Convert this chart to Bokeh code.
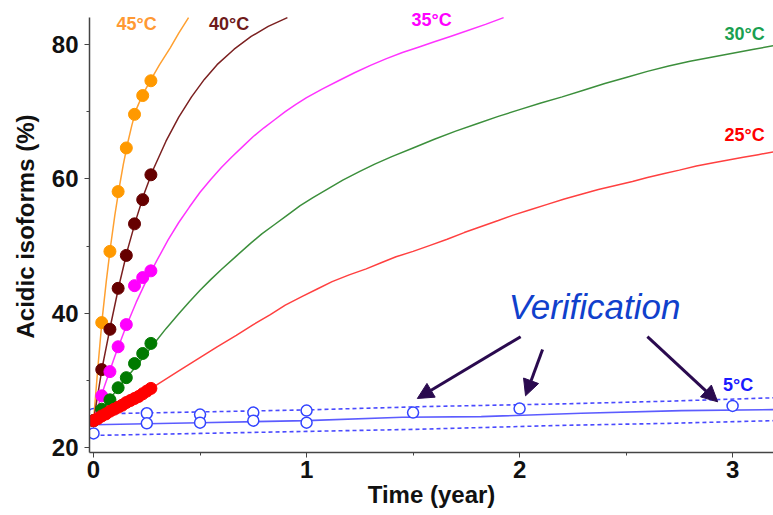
from bokeh.plotting import figure
from bokeh.models import Range1d, FixedTicker, Arrow, NormalHead, ColumnDataSource, Label
from bokeh.embed import file_html
from bokeh.resources import INLINE

# ---- data (years, % acidic isoforms) ----
weeks2 = [0, 2, 4, 6, 8, 10, 12, 14]
t_pts = [w / 52 for w in weeks2]
weeks1 = list(range(15))
t_red_pts = [w / 52 for w in weeks1]

pts45 = [24.0, 38.6, 49.2, 58.1, 64.6, 69.6, 72.4, 74.6]
pts40 = [24.0, 31.6, 37.6, 43.7, 48.6, 53.3, 56.9, 60.6]
pts35 = [24.0, 27.7, 31.3, 35.0, 38.3, 44.1, 45.3, 46.3]
pts30 = [24.0, 25.7, 27.1, 28.9, 30.4, 32.5, 34.0, 35.5]
pts25 = [24.0, 24.3, 24.7, 25.0, 25.4, 25.7, 26.0, 26.3, 26.7, 27.0, 27.3, 27.6, 28.0, 28.4, 28.8]

fit45_t = [0, 0.02, 0.04, 0.06, 0.08, 0.10, 0.12, 0.14, 0.16, 0.18, 0.20, 0.23, 0.27, 0.31, 0.36, 0.40, 0.446]
fit45_v = [24.0, 31.8, 39.0, 44.8, 50.0, 54.6, 58.6, 62.2, 65.3, 68.0, 70.3, 72.5, 74.8, 77.0, 79.5, 81.7, 84.0]

fit40_t = [0, 0.04, 0.08, 0.12, 0.16, 0.20, 0.24, 0.28, 0.34, 0.40, 0.46, 0.52, 0.58, 0.66, 0.74, 0.82, 0.91]
fit40_v = [24.0, 31.8, 38.2, 44.2, 49.5, 54.0, 58.0, 61.4, 65.6, 69.2, 72.2, 74.8, 77.0, 79.3, 81.2, 82.7, 84.0]

fit35_t = [0, 0.05, 0.10, 0.15, 0.20, 0.25, 0.30, 0.35, 0.40, 0.45, 0.50, 0.55, 0.60, 0.65, 0.70, 0.75, 0.80, 0.85, 0.90, 0.95, 1.00, 1.075, 1.15, 1.225, 1.30, 1.375, 1.45, 1.525, 1.60, 1.675, 1.75, 1.84, 1.925]
fit35_v = [24.0, 29.0, 33.6, 37.8, 41.6, 45.0, 48.0, 50.9, 53.5, 55.8, 58.0, 59.9, 61.7, 63.3, 64.8, 66.3, 67.6, 68.8, 70.0, 71.1, 72.1, 73.4, 74.6, 75.8, 76.9, 77.9, 78.8, 79.6, 80.4, 81.2, 82.0, 83.0, 84.0]

fit30_t = [0, 0.05, 0.10, 0.15, 0.20, 0.28, 0.34, 0.40, 0.45, 0.50, 0.55, 0.60, 0.67, 0.737, 0.79, 0.85, 0.91, 0.97, 1.03, 1.10, 1.17, 1.25, 1.32, 1.40, 1.50, 1.60, 1.70, 1.80, 1.90, 2.00, 2.10, 2.20, 2.30, 2.40, 2.50, 2.60, 2.70, 2.80, 2.90, 3.00, 3.10, 3.19]
fit30_v = [24.0, 26.1, 28.2, 30.2, 32.1, 35.3, 37.7, 39.9, 41.7, 43.4, 45.0, 46.5, 48.5, 50.4, 51.8, 53.2, 54.6, 56.0, 57.2, 58.5, 59.8, 61.1, 62.2, 63.3, 64.6, 65.9, 67.1, 68.2, 69.3, 70.3, 71.3, 72.2, 73.2, 74.2, 75.1, 76.0, 76.8, 77.5, 78.1, 78.7, 79.3, 79.8]

fit25_t = [0, 0.10, 0.20, 0.28, 0.40, 0.49, 0.58, 0.67, 0.75, 0.83, 0.90, 0.98, 1.05, 1.12, 1.20, 1.28, 1.35, 1.42, 1.50, 1.58, 1.66, 1.74, 1.82, 1.90, 1.97, 2.05, 2.13, 2.21, 2.29, 2.37, 2.45, 2.53, 2.60, 2.68, 2.75, 2.83, 2.91, 2.98, 3.05, 3.12, 3.19]
fit25_v = [24.0, 25.9, 27.6, 29.0, 31.4, 33.2, 35.0, 36.7, 38.3, 39.8, 41.2, 42.5, 43.6, 44.7, 45.7, 46.6, 47.5, 48.4, 49.2, 50.1, 51.0, 52.0, 52.9, 53.8, 54.6, 55.4, 56.2, 57.0, 57.7, 58.4, 59.0, 59.6, 60.2, 60.8, 61.3, 61.9, 62.4, 62.8, 63.2, 63.6, 64.0]

# 5 °C real-time data, prediction and interval
t5 = [0, 0, 0.25, 0.25, 0.5, 0.5, 0.75, 0.75, 1.0, 1.0]
v5 = [22.1, 25.0, 25.1, 23.6, 24.9, 23.7, 25.2, 24.0, 25.5, 23.7]
t_ver = [1.5, 2.0, 3.0]
v_ver = [25.2, 25.8, 26.2]
pred5_t = [0, 0.5, 1.0, 1.45, 1.82, 2.29, 2.76, 3.19]
pred5_v = [23.4, 23.7, 24.0, 24.5, 24.6, 25.1, 25.5, 25.65]
up5_t = [0, 0.5, 1.0, 1.56, 2.2, 2.7, 3.19]
up5_v = [25.0, 25.3, 25.6, 26.1, 26.5, 26.9, 27.4]
lo5_t = [0, 0.5, 1.0, 1.5, 2.2, 2.7, 3.19]
lo5_v = [21.8, 22.1, 22.4, 22.7, 23.3, 23.6, 24.0]

# labels
temp_labels = ["45°C", "40°C", "35°C", "30°C", "25°C", "5°C"]
label_t = [0.202, 0.636, 1.587, 3.056, 3.056, 3.026]
label_v = [83.1, 83.0, 83.6, 81.5, 66.5, 29.3]
label_colors = ["#ff9933", "#6e1a1a", "#ff00ff", "#1aa050", "#ff0000", "#1a1aff"]

arrow_t0 = [2.005, 2.108, 2.60]
arrow_v0 = [36.5, 34.6, 36.5]
arrow_t1 = [1.52, 2.028, 2.93]
arrow_v1 = [27.3, 27.7, 26.8]

x_ticks = [0, 1, 2, 3]
y_ticks = [20, 40, 60, 80]
y_axis_top = 84.0

# ---- figure ----
FONT = "Liberation Sans"
p = figure(width=773, height=515, output_backend="svg", toolbar_location=None,
           x_range=Range1d(-0.019, 3.192), y_range=Range1d(19.26, 86.55),
           min_border_left=89, min_border_right=0, min_border_top=0, min_border_bottom=63)
p.outline_line_color = None
p.grid.visible = False
p.background_fill_color = "white"

p.xaxis.ticker = FixedTicker(ticks=x_ticks, minor_ticks=[0.5, 1.5, 2.5])
p.yaxis.ticker = FixedTicker(ticks=y_ticks, minor_ticks=[30, 50, 70])
p.yaxis.bounds = (19.26, y_axis_top)
p.xaxis.axis_label = "Time (year)"
p.yaxis.axis_label = "Acidic isoforms (%)"
for ax in (p.xaxis, p.yaxis):
    ax.axis_line_color = "#444444"
    ax.axis_line_width = 1.5
    ax.major_tick_line_color = "#444444"
    ax.minor_tick_line_color = "#444444"
    ax.major_tick_out = 5
    ax.major_tick_in = 0
    ax.minor_tick_out = 3
    ax.minor_tick_in = 0
    ax.major_label_text_font = FONT
    ax.major_label_text_font_style = "bold"
    ax.major_label_text_font_size = "24px"
    ax.major_label_text_color = "#111111"
    ax.axis_label_text_font = FONT
    ax.axis_label_text_font_style = "bold"
    ax.axis_label_text_font_size = "24px"
    ax.axis_label_text_color = "#111111"
p.xaxis.major_label_standoff = 3
p.xaxis.axis_label_standoff = 0
p.yaxis.major_label_standoff = 6
p.yaxis.axis_label_standoff = 10

# 5 °C
blue = "#4a4aff"
p.line(up5_t, up5_v, line_color=blue, line_width=1.6, line_dash="4 3")
p.line(lo5_t, lo5_v, line_color=blue, line_width=1.6, line_dash="4 3")
p.line(pred5_t, pred5_v, line_color="#5c5cff", line_width=1.6)
p.scatter(t5, v5, size=11, marker="circle", fill_color="white", line_color="#3344ff", line_width=1.5)
p.scatter(t_ver, v_ver, size=11, marker="circle", fill_color="white", line_color="#3344ff", line_width=1.5)

# accelerated conditions: fitted curves
series = [
    (fit45_t, fit45_v, t_pts, pts45, "#ffa030", "#ff9900"),
    (fit40_t, fit40_v, t_pts, pts40, "#7b2020", "#660000"),
    (fit35_t, fit35_v, t_pts, pts35, "#ff33ff", "#ff00ff"),
    (fit30_t, fit30_v, t_pts, pts30, "#3c8f3c", "#007a00"),
    (fit25_t, fit25_v, t_red_pts, pts25, "#ff4040", "#ff0000"),
]
for ft, fv, pt, pv, lc, mc in series:
    p.line(ft, fv, line_color=lc, line_width=1.5)
for ft, fv, pt, pv, lc, mc in series:
    p.scatter(pt, pv, size=12, marker="circle", fill_color=mc, line_color=mc)

# temperature labels
for txt, lx, ly, lcol in zip(temp_labels, label_t, label_v, label_colors):
    p.add_layout(Label(x=lx, y=ly, text=txt, text_color=lcol, text_font=FONT,
                       text_font_style="bold", text_font_size="18px",
                       text_align="center", text_baseline="alphabetic"))

# verification arrows
arrow_color = "#2a0a4f"
arr_src = ColumnDataSource(dict(x0=arrow_t0, y0=arrow_v0, x1=arrow_t1, y1=arrow_v1))
p.add_layout(Arrow(end=NormalHead(size=16, fill_color=arrow_color, line_color=arrow_color),
                   x_start="x0", y_start="y0", x_end="x1", y_end="y1", source=arr_src,
                   line_color=arrow_color, line_width=3))

p.add_layout(Label(x=2.352, y=41.0, text="Verification", text_font=FONT,
                   text_font_style="italic", text_font_size="35px", text_color="#1040cc",
                   text_align="center", text_baseline="alphabetic"))

open("out.html", "w").write(file_html(p, INLINE))
